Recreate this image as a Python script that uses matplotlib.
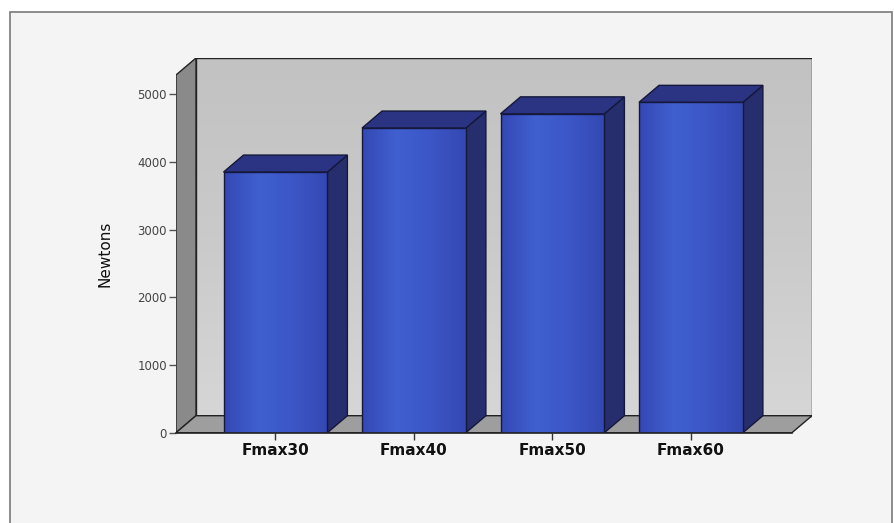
import matplotlib
matplotlib.use("Agg")
import matplotlib.pyplot as plt
import numpy as np
from matplotlib.patches import Polygon, Rectangle
from matplotlib.colors import LinearSegmentedColormap

# ---- data ----
categories = ["Fmax30", "Fmax40", "Fmax50", "Fmax60"]
values = [3850, 4500, 4710, 4880]
yticks = [0, 1000, 2000, 3000, 4000, 5000]
ylabel = "Newtons"

# ---- layout (pixels) ----
W, H = 894, 523
AX_L, AX_R, AX_T, AX_B = 176, 812, 58, 432.7
DX_PX, DY_PX = 20, 17
BAR_W = 0.75
XMIN, XMAX = -0.718, 3.874
YMAX = 5535

fig = plt.figure(figsize=(W / 100, H / 100), dpi=100)
fig.patch.set_facecolor("white")
frame = Rectangle((10 / W, -0.02), (892 - 10) / W, (H - 12) / H + 0.02, transform=fig.transFigure,
                  facecolor="#f4f4f4", edgecolor="#7a7a7a", lw=1.2, zorder=-5)
fig.patches.append(frame)

ax = fig.add_axes([AX_L / W, (H - AX_B) / H, (AX_R - AX_L) / W, (AX_B - AX_T) / H])
ax.set_zorder(2)
ax.patch.set_visible(False)
ax.set_xlim(XMIN, XMAX)
ax.set_ylim(0, YMAX)
for s in ax.spines.values():
    s.set_visible(False)

dx = DX_PX * (XMAX - XMIN) / (AX_R - AX_L)
dy = DY_PX * YMAX / (AX_B - AX_T)

# back wall with vertical gradient (darker at top, lighter at bottom)
bw = Polygon([(XMIN + dx, dy), (XMAX, dy), (XMAX, YMAX), (XMIN + dx, YMAX)], closed=True,
             facecolor="none", edgecolor="#222222", lw=1.0, zorder=2)
ax.add_patch(bw)
cmap_bw = LinearSegmentedColormap.from_list("bw", ["#c2c2c2", "#cacaca", "#d6d6d6"])
grad = np.linspace(0, 1, 256).reshape(-1, 1)
im = ax.imshow(grad, extent=(XMIN + dx, XMAX, dy, YMAX), cmap=cmap_bw, aspect="auto",
               origin="upper", zorder=1)
im.set_clip_path(bw)

# left wall
lw_poly = Polygon([(XMIN, 0), (XMIN, YMAX - dy), (XMIN + dx, YMAX), (XMIN + dx, dy)], closed=True,
                  facecolor="#8a8a8a", edgecolor="#222222", lw=1.0, zorder=3)
ax.add_patch(lw_poly)

# floor
fl = Polygon([(XMIN, 0), (XMAX - dx, 0), (XMAX, dy), (XMIN + dx, dy)], closed=True,
             facecolor="#9e9e9e", edgecolor="#222222", lw=1.0, zorder=3)
ax.add_patch(fl)

# bars
x = np.arange(len(categories))
cmap_front = LinearSegmentedColormap.from_list("fr", ["#3448b4", "#4060d0", "#3c56c6", "#3448b2"])
hgrad = np.linspace(0, 1, 256).reshape(1, -1)
for i, (xi, v) in enumerate(zip(x, values)):
    l, r = xi - BAR_W / 2, xi + BAR_W / 2
    side = Polygon([(r, 0), (r, v), (r + dx, v + dy), (r + dx, dy)], closed=True,
                   facecolor="#262e6e", edgecolor="#15183a", lw=1.0, zorder=5)
    ax.add_patch(side)
    top = Polygon([(l, v), (r, v), (r + dx, v + dy), (l + dx, v + dy)], closed=True,
                  facecolor="#2a3482", edgecolor="#15183a", lw=1.0, zorder=5)
    ax.add_patch(top)
    bars = ax.bar([xi], [v], width=BAR_W, color="none", edgecolor="#15183a", lw=1.0, zorder=7)
    im2 = ax.imshow(hgrad, extent=(l, r, 0, v), cmap=cmap_front, aspect="auto", zorder=6)
    im2.set_clip_path(bars.patches[0])

# x-axis line
ax.plot([XMIN, XMAX - dx], [0, 0], color="#222222", lw=1.2, zorder=8, clip_on=False)

ax.set_xlim(XMIN, XMAX)
ax.set_ylim(0, YMAX)

ax.set_yticks(yticks)
ax.set_yticklabels([str(t) for t in yticks])
ax.tick_params(axis="y", direction="out", length=5, width=1, color="#555555",
               labelcolor="#444444", labelsize=8.5, pad=1.5)
ax.set_xticks(x)
ax.set_xticklabels(categories, fontsize=11, fontweight="bold", color="#111111")
ax.tick_params(axis="x", direction="out", length=5, width=1, color="#333333", pad=2.5)

fig.text(105 / W, 1 - 254 / H, ylabel, rotation=90, ha="center", va="center",
         fontsize=11, color="#111111")

fig.savefig("out.png", dpi=100, facecolor=fig.get_facecolor())
